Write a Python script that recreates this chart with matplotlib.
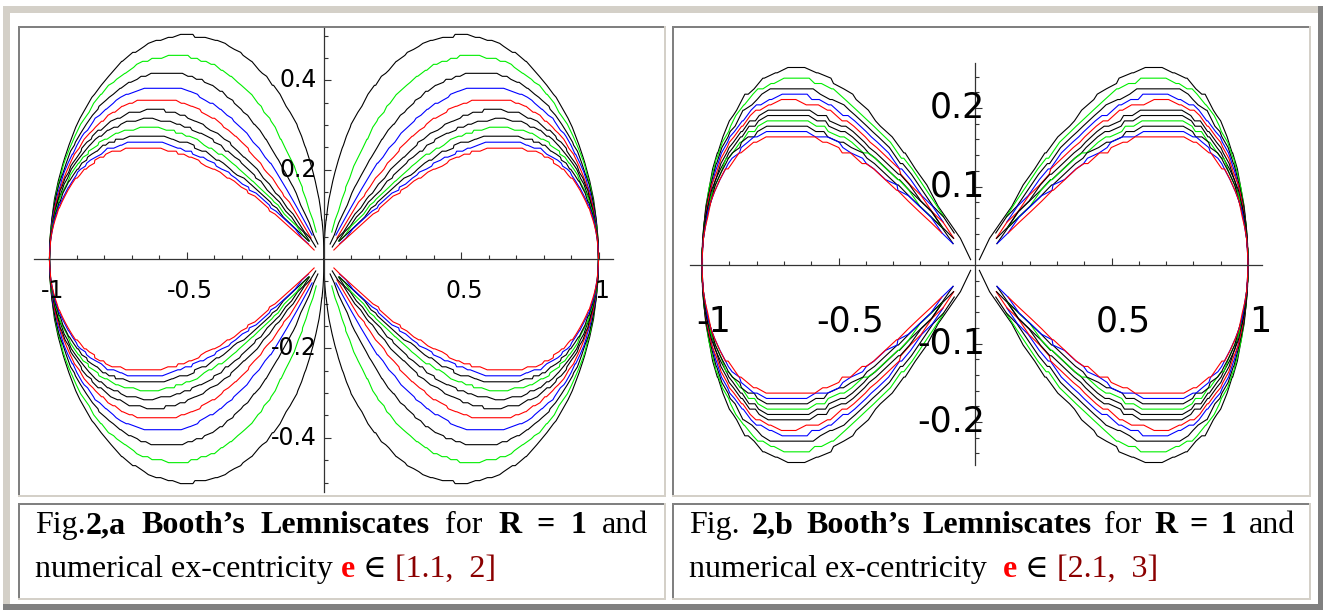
#---Booth's Lemniscates, two panels with captions (table-like layout)
import matplotlib
matplotlib.use("Agg")
import matplotlib.pyplot as plt
import numpy as np
from matplotlib.patches import Rectangle
from matplotlib import font_manager
from matplotlib.transforms import offset_copy

#---Data-------------------------------------------------------------------------------------
ecc_a = [1.0, 1.1, 1.2, 1.3, 1.4, 1.5, 1.6, 1.7, 1.8, 1.9, 2.0]
ecc_b = [2.0, 2.1, 2.2, 2.3, 2.4, 2.5, 2.6, 2.7, 2.8, 2.9, 3.0]
curve_colors = ['black', '#00ee00', 'black', '#0000ff', '#ff0000', 'black',
                'black', '#00ee00', 'black', '#0000ff', '#ff0000']

xticks_lab = [-1.0, -0.5, 0.5, 1.0]
xlabels = ['-1', '-0.5', '0.5', '1']
yticks_a = [0.4, 0.2, -0.2, -0.4]
ylabels_a = ['0.4', '0.2', '-0.2', '-0.4']
yticks_b = [0.2, 0.1, -0.1, -0.2]
ylabels_b = ['0.2', '0.1', '-0.1', '-0.2']

cap_a1 = [[("Fig.", 'normal'), ("2,a", 'bold')], [("Booth\u2019s", 'bold')], [("Lemniscates", 'bold')],
          [("for", 'normal')], [("R", 'bold')], [("=", 'bold')], [("1", 'bold')], [("and", 'normal')]]
cap_b1 = [[("Fig.", 'normal')], [("2,b", 'bold')], [("Booth\u2019s", 'bold')], [("Lemniscates", 'bold')],
          [("for", 'normal')], [("R", 'bold')], [("=", 'bold')], [("1", 'bold')], [("and", 'normal')]]
cap_a2 = [("numerical ex-centricity ", 'normal', 'black'), ("e", 'bold', '#ff0000'),
          (" \u2208 ", 'normal', 'black'), ("[1.1,  2]", 'normal', '#8b0000')]
cap_b2 = [("numerical ex-centricity  ", 'normal', 'black'), ("e", 'bold', '#ff0000'),
          (" \u2208 ", 'normal', 'black'), ("[2.1,  3]", 'normal', '#8b0000')]

#---Figure and background (pixel coordinates)------------------------------------------------
W, H = 1323, 610
fig = plt.figure(figsize=(W/100, H/100), dpi=100, facecolor='white')
bg = fig.add_axes([0, 0, 1, 1])
bg.set_xlim(0, W)
bg.set_ylim(H, 0)
bg.axis('off')

beige = '#d4d0c8'
dgray = '#808080'

def box(x0, y0, x1, y1, c):
    bg.add_patch(Rectangle((x0, y0), x1-x0, y1-y0, color=c, lw=0))

#outer frame
box(3, 6, 1318, 13, beige)
box(3, 6, 10, 610, beige)
box(1318, 6, 1323, 610, dgray)
box(3, 604, 1323, 610, dgray)

#cells (inset look)
def cell(x0, y0, x1, y1):
    box(x0, y0, x1, y0+2, dgray)
    box(x0, y0, x0+2, y1, dgray)
    box(x0, y1-2, x1, y1, beige)
    box(x1-2, y0, x1, y1, beige)

cell(18, 26, 666, 497)
cell(672, 26, 1311, 497)
cell(18, 503, 666, 600)
cell(672, 503, 1311, 600)

#---Lemniscate lobe (x^2+y^2)^2 = x^2 - (e^2-1) y^2 -----------------------------------------
def lobe(e, rcut, qy, npts=36):
    k = e**2 - 1.0
    tmax = np.arctan(1.0/np.sqrt(k)) if k > 0 else np.pi/2
    t1 = np.linspace(0.0, tmax, npts)
    rr = np.linspace(max(rcut, 1e-4), 1.0, npts)
    t2 = np.arccos(np.sqrt((rr**2 + k)/(1.0 + k)))
    t = np.unique(np.round(np.concatenate([t1, t2]), 4))
    r = np.sqrt(np.clip(np.cos(t)**2 - k*np.sin(t)**2, 0.0, None))
    keep = r >= rcut - 1e-6
    x = r[keep]*np.cos(t[keep])
    y = np.round(r[keep]*np.sin(t[keep])/qy)*qy
    return np.concatenate([x[::-1], x]), np.concatenate([y[::-1], -y])

def setup(ax, ymaj, ymin_step, ymax_v):
    ax.patch.set_alpha(0)
    for s in ['top', 'right']:
        ax.spines[s].set_visible(False)
    for s in ['left', 'bottom']:
        ax.spines[s].set_position('zero')
        ax.spines[s].set_color('#333333')
        ax.spines[s].set_linewidth(0.9)
    ax.set_xticks([-1.0, -0.5, 0.5, 1.0])
    ax.set_xticks([v for v in np.round(np.arange(-1.0, 1.01, 0.1), 2) if abs(v) not in (0.0, 0.5, 1.0)], minor=True)
    ax.set_yticks(ymaj)
    yn = np.round(np.arange(-ymax_v, ymax_v + 1e-9, ymin_step), 3)
    ax.set_yticks([v for v in yn if v != 0 and not np.any(np.isclose(v, ymaj))], minor=True)
    ax.tick_params(which='major', direction='in', length=5, width=0.8, color='#333333',
                   labelbottom=False, labelleft=False)
    ax.tick_params(which='minor', direction='in', length=3, width=0.8, color='#333333')

#---Panel a----------------------------------------------------------------------------------
x0a, x1a, y0a, y1a = 34, 613, 28, 492
axa = fig.add_axes([x0a/W, 1-y1a/H, (x1a-x0a)/W, (y1a-y0a)/H])
axa.set_xlim(-(324-34)/274.5, (613-324)/274.5)
axa.set_ylim(-(492-259)/447.0, (259-28)/447.0)
setup(axa, [-0.4, -0.2, 0.2, 0.4], 0.05, 0.5)
for i, (e, c) in enumerate(zip(ecc_a, curve_colors)):
    xs, ys = lobe(e, 0.0 if i == 0 else 0.04, 0.0067)
    axa.plot(xs, ys, color=c, lw=0.8)
    axa.plot(-xs, ys, color=c, lw=0.8)

tx = offset_copy(axa.transData, fig=fig, x=3, y=-32, units='dots')
for v, s in zip(xticks_lab, xlabels):
    axa.text(v, 0, s, transform=tx, ha='center', va='center', fontsize=17, family='DejaVu Sans')
ty = offset_copy(axa.transData, fig=fig, x=-7, y=0, units='dots')
for v, s in zip(yticks_a, ylabels_a):
    axa.text(0, v, s, transform=ty, ha='right', va='center', fontsize=17, family='DejaVu Sans')

#---Panel b----------------------------------------------------------------------------------
x0b, x1b, y0b, y1b = 690, 1262, 63, 465
axb = fig.add_axes([x0b/W, 1-y1b/H, (x1b-x0b)/W, (y1b-y0b)/H])
axb.set_xlim(-(975-690)/273.0, (1262-975)/273.0)
axb.set_ylim(-(465-265)/785.0, (265-63)/785.0)
setup(axb, [-0.2, -0.1, 0.1, 0.2], 0.02, 0.24)
for i, (e, c) in enumerate(zip(ecc_b, curve_colors)):
    xs, ys = lobe(e, 0.015 if i == 0 else 0.085, 0.0068, npts=22)
    axb.plot(xs, ys, color=c, lw=0.8)
    axb.plot(-xs, ys, color=c, lw=0.8)

names = {f.name for f in font_manager.fontManager.ttflist}
if 'Liberation Sans Narrow' in names:
    fam_b, fs_b = 'Liberation Sans Narrow', 30
else:
    fam_b, fs_b = 'DejaVu Sans', 25
tx = offset_copy(axb.transData, fig=fig, x=12, y=-57, units='dots')
for v, s in zip(xticks_lab, xlabels):
    axb.text(v, 0, s, transform=tx, ha='center', va='center', fontsize=fs_b, family=fam_b)
ty = offset_copy(axb.transData, fig=fig, x=10, y=0, units='dots')
for v, s in zip(yticks_b, ylabels_b):
    axb.text(0, v, s, transform=ty, ha='right', va='center', fontsize=fs_b, family=fam_b)

#---Captions---------------------------------------------------------------------------------
serif = ['Liberation Serif', 'DejaVu Serif']
cfs = 23
renderer = fig.canvas.get_renderer()

def put(x, y, s, wt, col='black'):
    t = bg.text(x, y, s, fontsize=cfs, fontweight=wt, color=col, family=serif, va='baseline', ha='left')
    return t.get_window_extent(renderer).width

def justified(words, xl, xr, yb):
    widths = []
    for w in words:
        tot = 0
        for s, wt in w:
            t = bg.text(0, 0, s, fontsize=cfs, fontweight=wt, family=serif)
            tot += t.get_window_extent(renderer).width
            t.remove()
        widths.append(tot)
    gap = (xr - xl - sum(widths)) / (len(words) - 1)
    x = xl
    for w, wd in zip(words, widths):
        xx = x
        for s, wt in w:
            xx += put(xx, yb, s, wt)
        x += wd + gap

def runline(runs, xl, yb):
    x = xl
    for s, wt, col in runs:
        x += put(x, yb, s, wt, col)

justified(cap_a1, 35, 648, 533)
runline(cap_a2, 35, 577)
justified(cap_b1, 689, 1295, 533)
runline(cap_b2, 689, 577)

plt.savefig("out.png", dpi=100)
